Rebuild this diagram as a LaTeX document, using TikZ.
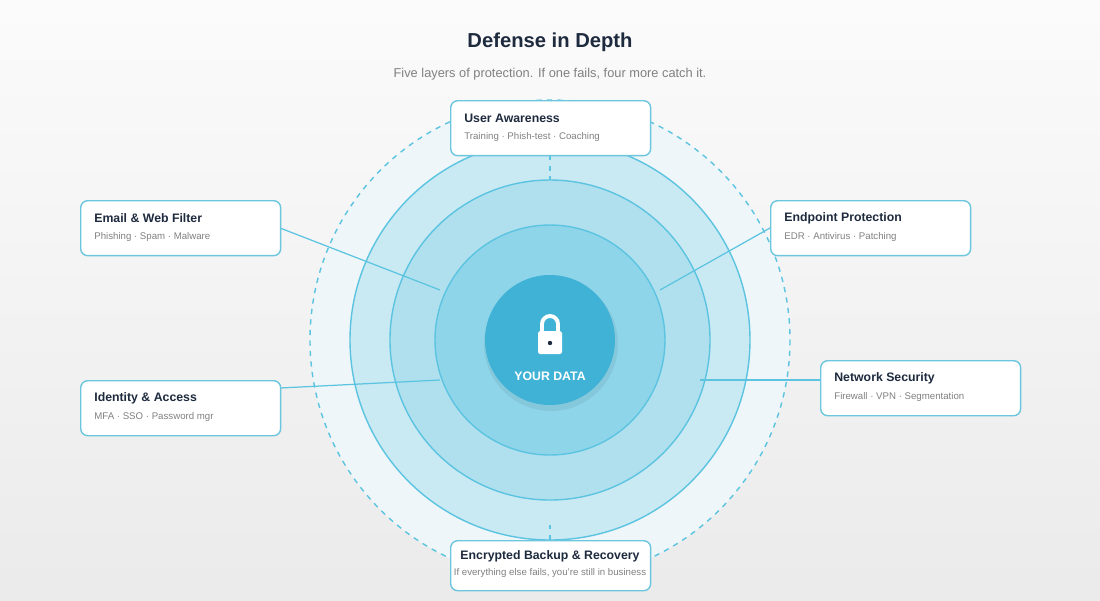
\documentclass[tikz,border=0pt]{standalone}
\usepackage{fontspec}
\setmainfont{Liberation Sans}
\definecolor{rs}{HTML}{5CC4E0}
\definecolor{f0}{HTML}{EEF6F9}
\definecolor{f1}{HTML}{C9E9F3}
\definecolor{f2}{HTML}{B0E0EE}
\definecolor{f3}{HTML}{8ED5EA}
\definecolor{cc}{HTML}{40B2D5}
\definecolor{nv}{HTML}{1E2A3E}
\definecolor{bx}{HTML}{6CC6DE}
\begin{document}
\begin{tikzpicture}[x=0.02cm,y=-0.02cm,
  ring/.style={draw=rs, line width=0.8pt},
  box/.style={draw=bx, line width=0.8pt, fill=white, rounded corners=4pt},
  conn/.style={draw=rs, line width=0.7pt},
  ttl/.style={anchor=west, inner sep=0pt, font=\bfseries\fontsize{7}{8}\selectfont, text=nv},
  sub/.style={anchor=west, inner sep=0pt, font=\fontsize{5.5}{6.5}\selectfont, text=gray}]
\shade[top color=white!97!gray, bottom color=black!8!white] (0,0) rectangle (1100,600);
\useasboundingbox (0,0) rectangle (1100,600);
\node[font=\bfseries\fontsize{11.5}{13}\selectfont, text=nv] (title) at (550,42) {Defense in Depth};
\node[font=\fontsize{7.3}{9}\selectfont, text=gray] (subt) at (550,74) {Five layers of protection. If one fails, four more catch it.};
\filldraw[ring, dashed, fill=f0] (550,340) circle (240);
\filldraw[ring, fill=f1] (550,340) circle (200);
\filldraw[ring, fill=f2] (550,340) circle (160);
\filldraw[ring, fill=f3] (550,340) circle (115);
\fill[black, opacity=0.06] (551,344) circle (67);
\fill[cc] (550,340) circle (65);
\node[circle, minimum size=2.6cm] (core) at (550,340) {};
% lock
\draw[white, line width=2.2pt] (542,333) -- (542,324) arc (180:360:8) -- (558,333);
\fill[white, rounded corners=1pt] (538,331) rectangle (562,354);
\fill[nv] (550,343) circle (2.2);
\node[font=\bfseries\fontsize{7}{8}\selectfont, text=white] (yd) at (550,376) {YOUR DATA};
\coordinate (cA) at (440,290); \coordinate (cB) at (660,290);
\coordinate (cC) at (440,380); \coordinate (cD) at (700,380);
\coordinate (cE) at (550,180); \coordinate (cF) at (550,525);
\newcommand{\dbox}[5]{%
 \node[box, minimum width=4cm, minimum height=1.1cm, anchor=north west] (#1) at (#2,#3) {};
 \node[ttl] at (#2+14,#3+18) {#4};
 \node[sub] at (#2+14,#3+37) {#5};}
\draw[conn] (280,228) -- (cA);
\draw[conn] (770,228) -- (cB);
\draw[conn] (280,388) -- (cC);
\draw[conn] (820,380) -- (cD);
\draw[conn, dashed] (550,155) -- (cE);
\draw[conn, dashed] (550,540) -- (cF);
\dbox{ua}{450}{100}{User Awareness}{Training · Phish-test · Coaching}
\dbox{ew}{80}{200}{Email \& Web Filter}{Phishing · Spam · Malware}
\dbox{ep}{770}{200}{Endpoint Protection}{EDR · Antivirus · Patching}
\dbox{ia}{80}{380}{Identity \& Access}{MFA · SSO · Password mgr}
\dbox{ns}{820}{360}{Network Security}{Firewall · VPN · Segmentation}
\node[box, minimum width=4cm, minimum height=1.0cm, anchor=north west] (eb) at (450,540) {};
\node[font=\bfseries\fontsize{7}{8}\selectfont, text=nv] at (550,556) {Encrypted Backup \& Recovery};
\node[font=\fontsize{5.5}{6.5}\selectfont, text=gray] at (550,573) {If everything else fails, you're still in business};
\end{tikzpicture}
\end{document}
